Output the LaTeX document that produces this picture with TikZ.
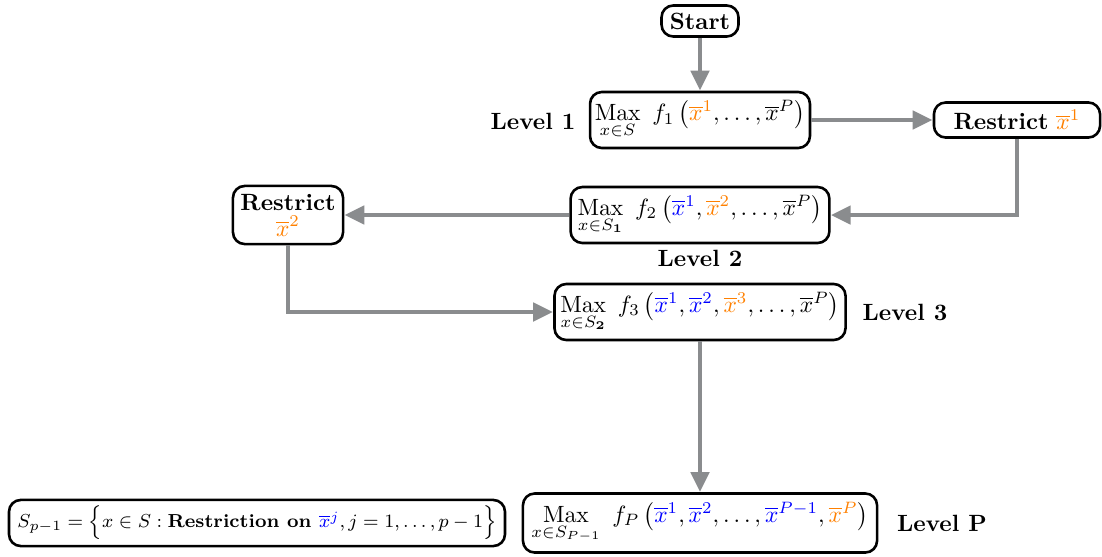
\documentclass[tikz,border=0pt]{standalone}
\usepackage{amsmath}
\usetikzlibrary{arrows.meta}
\definecolor{arrgray}{RGB}{138,140,142}
\definecolor{xorange}{RGB}{255,128,0}
\newcommand{\myxb}[1]{\overline{x}^{#1}}
\newcommand{\myox}[1]{\textcolor{xorange}{\overline{x}^{#1}}}
\newcommand{\mybx}[1]{\textcolor{blue}{\overline{x}^{#1}}}
\newcommand{\mymax}[1]{\mathop{\mathrm{Max}}\limits_{#1}}
\begin{document}
\begin{tikzpicture}[x=0.425pt,y=-0.425pt,
  box/.style={draw,line width=1.1pt,rounded corners=5pt,align=center,inner sep=2pt},
  lbl/.style={font=\bfseries},
  arr/.style={draw=arrgray,line width=2.1pt,-{Triangle[length=8.5pt,width=7.6pt]}}]
\useasboundingbox (0,0) rectangle (1102,556);
\node[box,minimum width=32.7pt,minimum height=13.2pt,font=\bfseries] (start) at (700,21) {Start};
\node[box,minimum width=92.7pt,minimum height=23.8pt] (l1) at (700,120)
  {$\mymax{x\in S}\ f_1\left(\myox{1},\ldots,\myxb{P}\right)$};
\node[lbl] (lab1) at (533,121) {Level 1};
\node[box,minimum width=70.6pt,minimum height=14.9pt] (r1) at (1017,120)
  {\textbf{Restrict} $\myox{1}$};
\node[box,minimum width=110pt,minimum height=23.8pt] (l2) at (700,215)
  {$\mymax{x\in S_{\mathbf{1}}}\ f_2\left(\mybx{1},\myox{2},\ldots,\myxb{P}\right)$};
\node[lbl] (lab2) at (700,258) {Level 2};
\node[box,minimum width=46.8pt,minimum height=24.7pt,inner sep=1pt] (r2) at (288,215)
  {\textbf{Restrict}\\[-1pt] $\myox{2}$};
\node[box,minimum width=123.7pt,minimum height=23.8pt] (l3) at (700,312)
  {$\mymax{x\in S_{\mathbf{2}}}\ f_3\left(\mybx{1},\mybx{2},\myox{3},\ldots,\myxb{P}\right)$};
\node[lbl] (lab3) at (905,312) {Level 3};
\node[box,minimum width=150.5pt,minimum height=25.1pt] (lp) at (700,523)
  {$\mymax{x\in S_{P-1}}\ f_P\left(\mybx{1},\mybx{2},\ldots,\mybx{P-1},\myox{P}\right)$};
\node[lbl] (labp) at (942,523) {Level P};
\node[box,minimum width=210.8pt,minimum height=19.6pt,font=\footnotesize] (sp) at (257,523)
  {$S_{p-1}=\Bigl\{x\in S:\textbf{Restriction on }\mybx{j},j=1,\ldots,p-1\Bigr\}$};
\draw[arr] (start) -- (l1);
\draw[arr] (l1) -- (r1);
\draw[arr] (r1.south) |- (l2.east);
\draw[arr] (l2) -- (r2);
\draw[arr] (r2.south) |- (l3.west);
\draw[arr] (l3) -- (lp);
\end{tikzpicture}
\end{document}
